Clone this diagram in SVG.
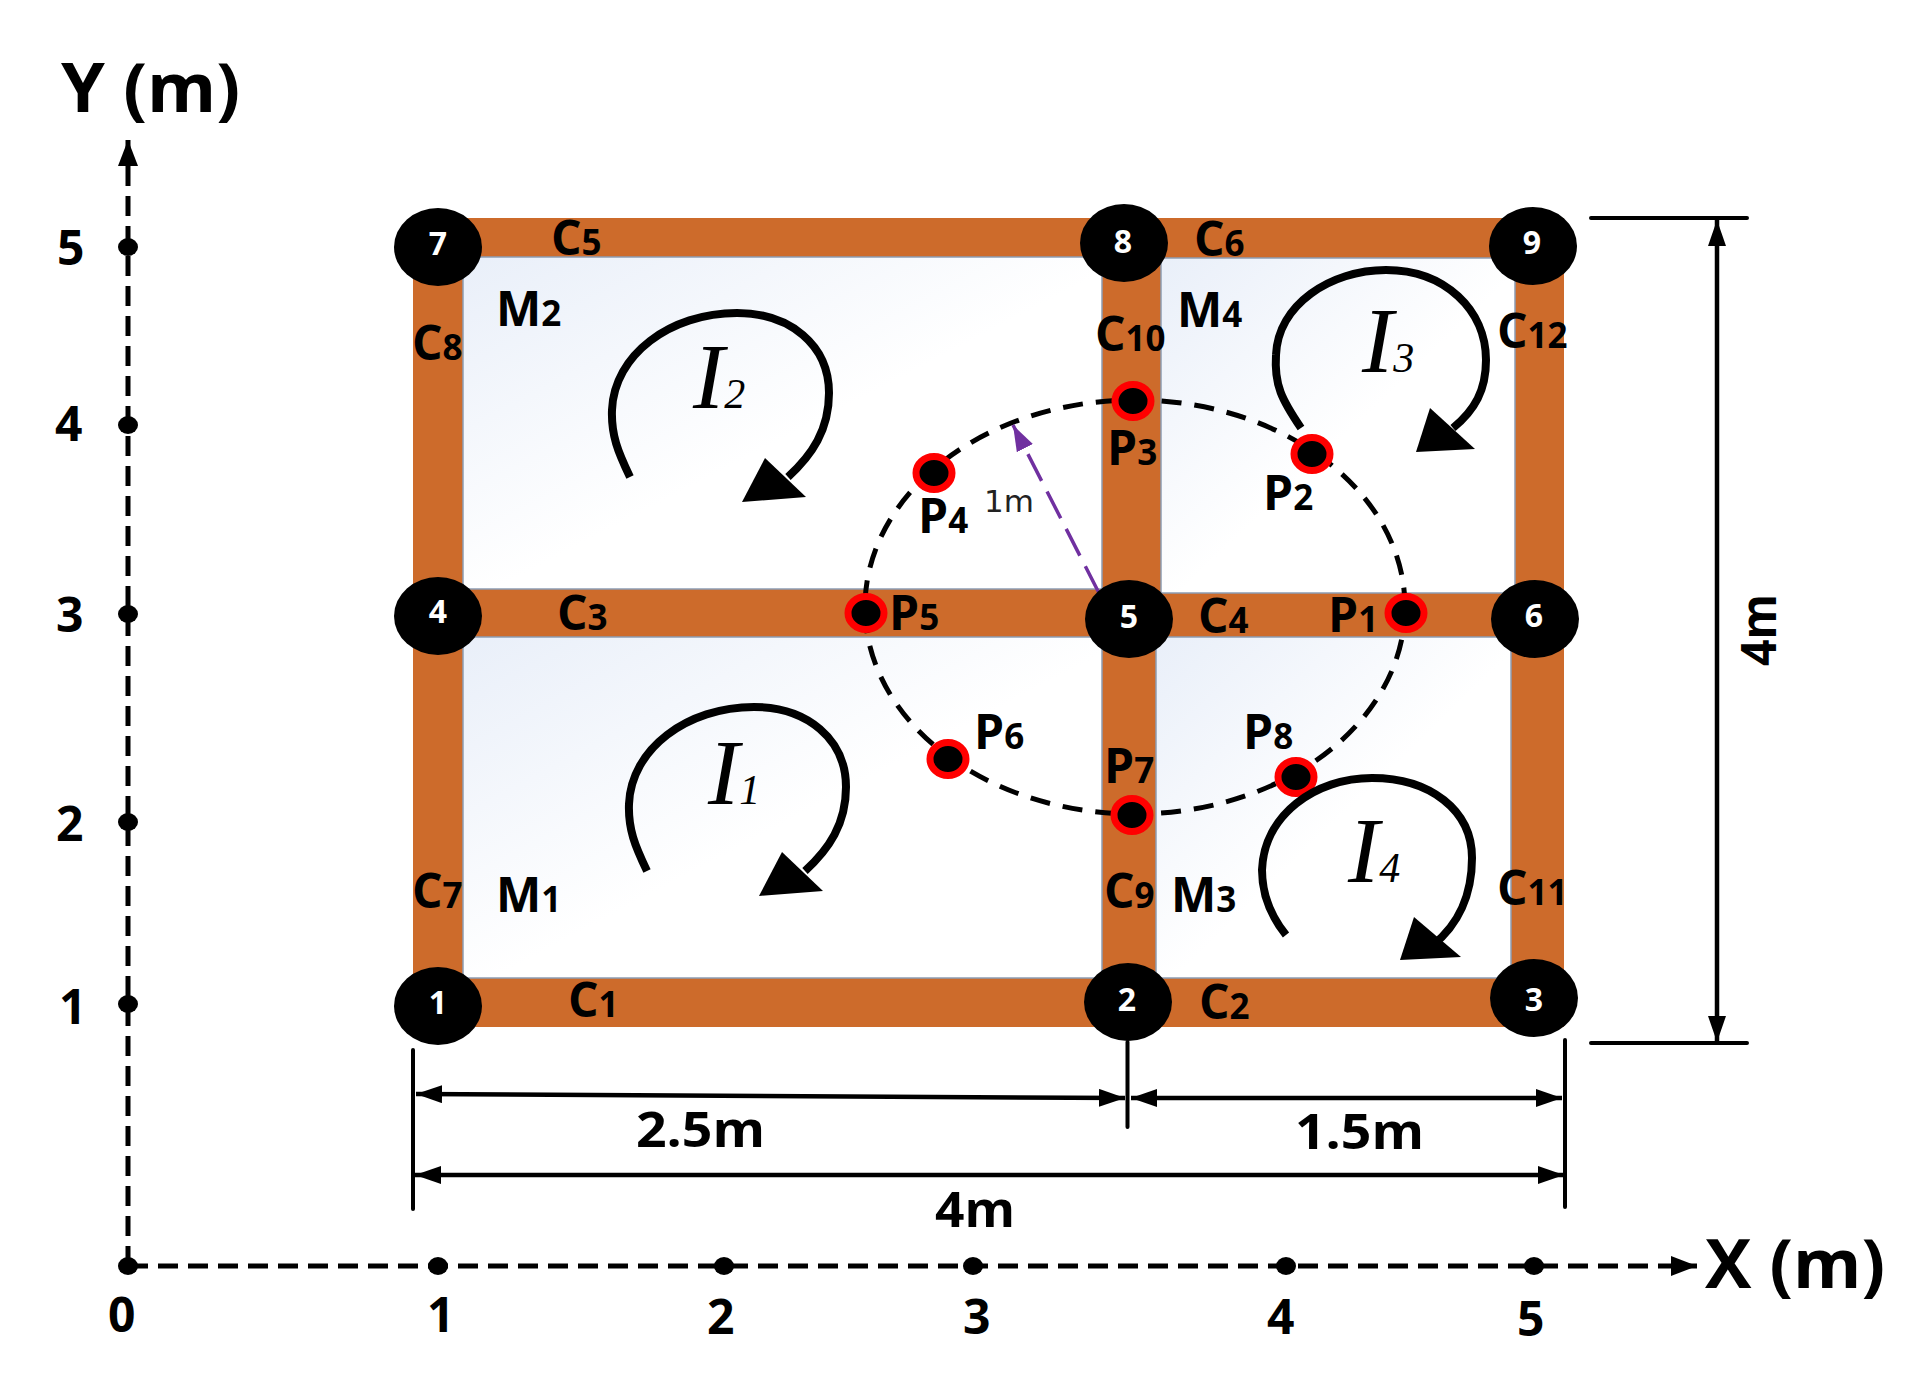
<svg xmlns="http://www.w3.org/2000/svg" width="1912" height="1378" viewBox="0 0 1912 1378">
<style>
text{font-family:"Open Sans","Liberation Sans",sans-serif;font-weight:700;fill:#000}
.l{font-size:48px}.l tspan{font-size:35px}
.ax{font-size:48px}
.big{font-size:68px}
.dim{font-size:48px}
.n{font-size:32px;fill:#fff;text-anchor:middle}
.i{font-family:"Liberation Serif","Times New Roman",serif;font-style:italic;font-weight:400;font-size:94px}
.i tspan{font-size:42px}
.bar{fill:#cd6b2b}
.pane{fill:url(#g);stroke:#8d9db3;stroke-width:1.5}
.nd{fill:#000}
.pt{fill:#000;stroke:#f00;stroke-width:7}
.tick{fill:#000}
.axis{fill:none;stroke:#000;stroke-width:5;stroke-dasharray:20 10}
.circ{fill:none;stroke:#000;stroke-width:5;stroke-dasharray:20 13}
.arc{fill:none;stroke:#000;stroke-width:8}
.d{fill:none;stroke:#000;stroke-width:4.500}
.ext{fill:none;stroke:#000;stroke-width:4;stroke-linecap:round}
</style>
<defs>
<linearGradient id="g" x1="0" y1="0" x2="0.75" y2="0.75"><stop offset="0" stop-color="#e9eff9"/><stop offset="0.7" stop-color="#fff"/></linearGradient>
<marker id="a" markerUnits="userSpaceOnUse" viewBox="0 0 26 18" refX="26" refY="9" markerWidth="26" markerHeight="18" orient="auto-start-reverse"><path d="M0 0L26 9L0 18Z" fill="#000"/></marker>
<marker id="ax" markerUnits="userSpaceOnUse" viewBox="0 0 26 20" refX="26" refY="10" markerWidth="26" markerHeight="20" orient="auto"><path d="M0 0L26 10L0 20Z" fill="#000"/></marker>
<marker id="p" markerUnits="userSpaceOnUse" viewBox="0 0 26 18" refX="26" refY="9" markerWidth="26" markerHeight="18" orient="auto"><path d="M0 0L26 9L0 18Z" fill="#7030a0"/></marker>
</defs>
<rect width="1912" height="1378" fill="#fff"/>
<g id="connectors">
<rect class="bar" x="413" y="218" width="1151" height="40"/>
<rect class="bar" x="413" y="589" width="1151" height="48"/>
<rect class="bar" x="413" y="978" width="1151" height="49"/>
<rect class="bar" x="413" y="218" width="50" height="809"/>
<rect class="bar" x="1102" y="218" width="59" height="390"/>
<rect class="bar" x="1102" y="600" width="54" height="427"/>
<rect class="bar" x="1511" y="218" width="53" height="809"/>
</g>
<g id="rooms">
<rect class="pane" x="463" y="257" width="639" height="332"/>
<rect class="pane" x="1161" y="258" width="354" height="335"/>
<rect class="pane" x="463" y="637" width="639" height="341"/>
<rect class="pane" x="1156" y="637" width="355" height="341"/>
</g>
<g id="axes">
<path class="axis" d="M128 1266V140" marker-end="url(#ax)"/>
<path class="axis" d="M128 1266H1697" marker-end="url(#ax)"/>
<g class="tick">
<ellipse cx="128" cy="1266" rx="10" ry="9"/><ellipse cx="438" cy="1266" rx="10" ry="9"/><ellipse cx="724" cy="1266" rx="10" ry="9"/><ellipse cx="973" cy="1266" rx="10" ry="9"/><ellipse cx="1286" cy="1266" rx="10" ry="9"/><ellipse cx="1534" cy="1266" rx="10" ry="9"/>
<ellipse cx="128" cy="1004" rx="10" ry="9"/><ellipse cx="128" cy="822" rx="10" ry="9"/><ellipse cx="128" cy="614" rx="10" ry="9"/><ellipse cx="128" cy="425" rx="10" ry="9"/><ellipse cx="128" cy="247" rx="10" ry="9"/>
</g>
<text class="big" x="61" y="112" textLength="179" lengthAdjust="spacingAndGlyphs">Y (m)</text>
<text class="big" x="1705" y="1288" textLength="180" lengthAdjust="spacingAndGlyphs">X (m)</text>
<text class="ax" x="108" y="1332">0</text><text class="ax" x="427" y="1332">1</text><text class="ax" x="707" y="1334">2</text><text class="ax" x="963" y="1334">3</text><text class="ax" x="1267" y="1334">4</text><text class="ax" x="1517" y="1336">5</text>
<text class="ax" x="57" y="265">5</text><text class="ax" x="55" y="441">4</text><text class="ax" x="56" y="632">3</text><text class="ax" x="56" y="841">2</text><text class="ax" x="59" y="1024">1</text>
</g>
<g id="circle">
<ellipse class="circ" cx="1135" cy="607" rx="270" ry="207"/>
<path d="M1099 593L1013 425" fill="none" stroke="#7030a0" stroke-width="3.500" stroke-dasharray="30 12" marker-end="url(#p)"/>
<text x="984" y="512" style="font-family:'DejaVu Sans',sans-serif;font-weight:400;font-size:31px;fill:#222">1m</text>
</g>
<g id="node-1"><ellipse class="nd" cx="438" cy="1006" rx="44" ry="39"/><text class="n" x="438" y="1014">1</text></g>
<g id="node-2"><ellipse class="nd" cx="1128" cy="1002" rx="44" ry="39"/><text class="n" x="1127" y="1011">2</text></g>
<g id="node-3"><ellipse class="nd" cx="1534" cy="998" rx="44" ry="39"/><text class="n" x="1534" y="1011">3</text></g>
<g id="node-4"><ellipse class="nd" cx="438" cy="616" rx="44" ry="39"/><text class="n" x="438" y="623">4</text></g>
<g id="node-5"><ellipse class="nd" cx="1129" cy="619" rx="44" ry="39"/><text class="n" x="1129" y="628">5</text></g>
<g id="node-6"><ellipse class="nd" cx="1535" cy="619" rx="44" ry="39"/><text class="n" x="1534" y="627">6</text></g>
<g id="node-7"><ellipse class="nd" cx="438" cy="247" rx="44" ry="39"/><text class="n" x="438" y="255">7</text></g>
<g id="node-8"><ellipse class="nd" cx="1124" cy="243" rx="44" ry="39"/><text class="n" x="1123" y="253">8</text></g>
<g id="node-9"><ellipse class="nd" cx="1533" cy="246" rx="44" ry="39"/><text class="n" x="1532" y="254">9</text></g>
<g id="p1"><ellipse class="pt" cx="1406" cy="613" rx="18" ry="16.500"/></g>
<g id="p2"><ellipse class="pt" cx="1312" cy="454" rx="18" ry="16.500"/></g>
<g id="p3"><ellipse class="pt" cx="1133" cy="401" rx="18" ry="16.500"/></g>
<g id="p4"><ellipse class="pt" cx="934" cy="473" rx="18" ry="16.500"/></g>
<g id="p5"><ellipse class="pt" cx="866" cy="613" rx="18" ry="16.500"/></g>
<g id="p6"><ellipse class="pt" cx="948" cy="759" rx="18" ry="16.500"/></g>
<g id="p7"><ellipse class="pt" cx="1132" cy="815" rx="18" ry="16.500"/></g>
<g id="p8"><ellipse class="pt" cx="1296" cy="777" rx="18" ry="16.500"/></g>
<g id="currents">
<path class="arc" d="M630 477C618 452 611 435 612 410C614 355 670 313 737 313C790 313 829 345 829 393C829 430 812 455 788 477"/>
<path d="M765 458L806 497L742 502Z"/>
<path class="arc" d="M647 871C635 846 628 829 629 804C631 749 687 707 754 707C807 707 846 739 846 787C846 824 829 849 805 871"/>
<path d="M782 852L823 891L759 896Z"/>
<path class="arc" d="M1301 428C1282 400 1274 385 1276 355C1278 305 1330 270 1386 270C1445 270 1486 310 1486 360C1486 390 1475 410 1453 428"/>
<path d="M1430 408L1475 449L1416 452Z"/>
<path class="arc" d="M1286 935C1270 915 1262 895 1262 870C1264 815 1315 778 1372 778C1430 778 1472 810 1472 858C1472 895 1458 925 1433 945"/>
<path d="M1414 917L1461 957L1400 960Z"/>
<text class="i" x="693" y="408">I<tspan>2</tspan></text>
<text class="i" x="708" y="804">I<tspan>1</tspan></text>
<text class="i" x="1362" y="372">I<tspan>3</tspan></text>
<text class="i" x="1348" y="882">I<tspan>4</tspan></text>
</g>
<g id="labels">
<text class="l" x="551" y="255">C<tspan>5</tspan></text>
<text class="l" x="1194" y="256">C<tspan>6</tspan></text>
<text class="l" x="557" y="630">C<tspan>3</tspan></text>
<text class="l" x="1198" y="633">C<tspan>4</tspan></text>
<text class="l" x="568" y="1017">C<tspan>1</tspan></text>
<text class="l" x="1199" y="1019">C<tspan>2</tspan></text>
<text class="l" x="412" y="360">C<tspan>8</tspan></text>
<text class="l" x="412" y="908">C<tspan>7</tspan></text>
<text class="l" x="1095" y="351">C<tspan>10</tspan></text>
<text class="l" x="1104" y="908">C<tspan>9</tspan></text>
<text class="l" x="1497" y="348">C<tspan>12</tspan></text>
<text class="l" x="1497" y="905">C<tspan>11</tspan></text>
<text class="l" x="496" y="326">M<tspan>2</tspan></text>
<text class="l" x="1177" y="327">M<tspan>4</tspan></text>
<text class="l" x="496" y="912">M<tspan>1</tspan></text>
<text class="l" x="1171" y="912">M<tspan>3</tspan></text>
<text class="l" x="1328" y="632">P<tspan>1</tspan></text>
<text class="l" x="1263" y="510">P<tspan>2</tspan></text>
<text class="l" x="1107" y="465">P<tspan>3</tspan></text>
<text class="l" x="918" y="533">P<tspan>4</tspan></text>
<text class="l" x="889" y="630">P<tspan>5</tspan></text>
<text class="l" x="974" y="749">P<tspan>6</tspan></text>
<text class="l" x="1104" y="783">P<tspan>7</tspan></text>
<text class="l" x="1243" y="749">P<tspan>8</tspan></text>
</g>
<g id="dimensions">
<path class="ext" d="M413 1050V1209M1127.500 1042V1127M1565 1040V1207M1591 218H1747M1591 1043H1747"/>
<path class="d" d="M416 1094L1125 1098" marker-start="url(#a)" marker-end="url(#a)"/>
<path class="d" d="M1131 1098H1562" marker-start="url(#a)" marker-end="url(#a)"/>
<path class="d" d="M415 1175H1564" marker-start="url(#a)" marker-end="url(#a)"/>
<path class="d" d="M1717 220V1042" marker-start="url(#a)" marker-end="url(#a)"/>
<text class="dim" x="636" y="1147" textLength="129" lengthAdjust="spacingAndGlyphs">2.5m</text>
<text class="dim" x="1295" y="1149" textLength="129" lengthAdjust="spacingAndGlyphs">1.5m</text>
<text class="dim" x="935" y="1227" textLength="80" lengthAdjust="spacingAndGlyphs">4m</text>
<text class="dim" transform="translate(1776 666) rotate(-90)" textLength="72" lengthAdjust="spacingAndGlyphs">4m</text>
</g>
</svg>
